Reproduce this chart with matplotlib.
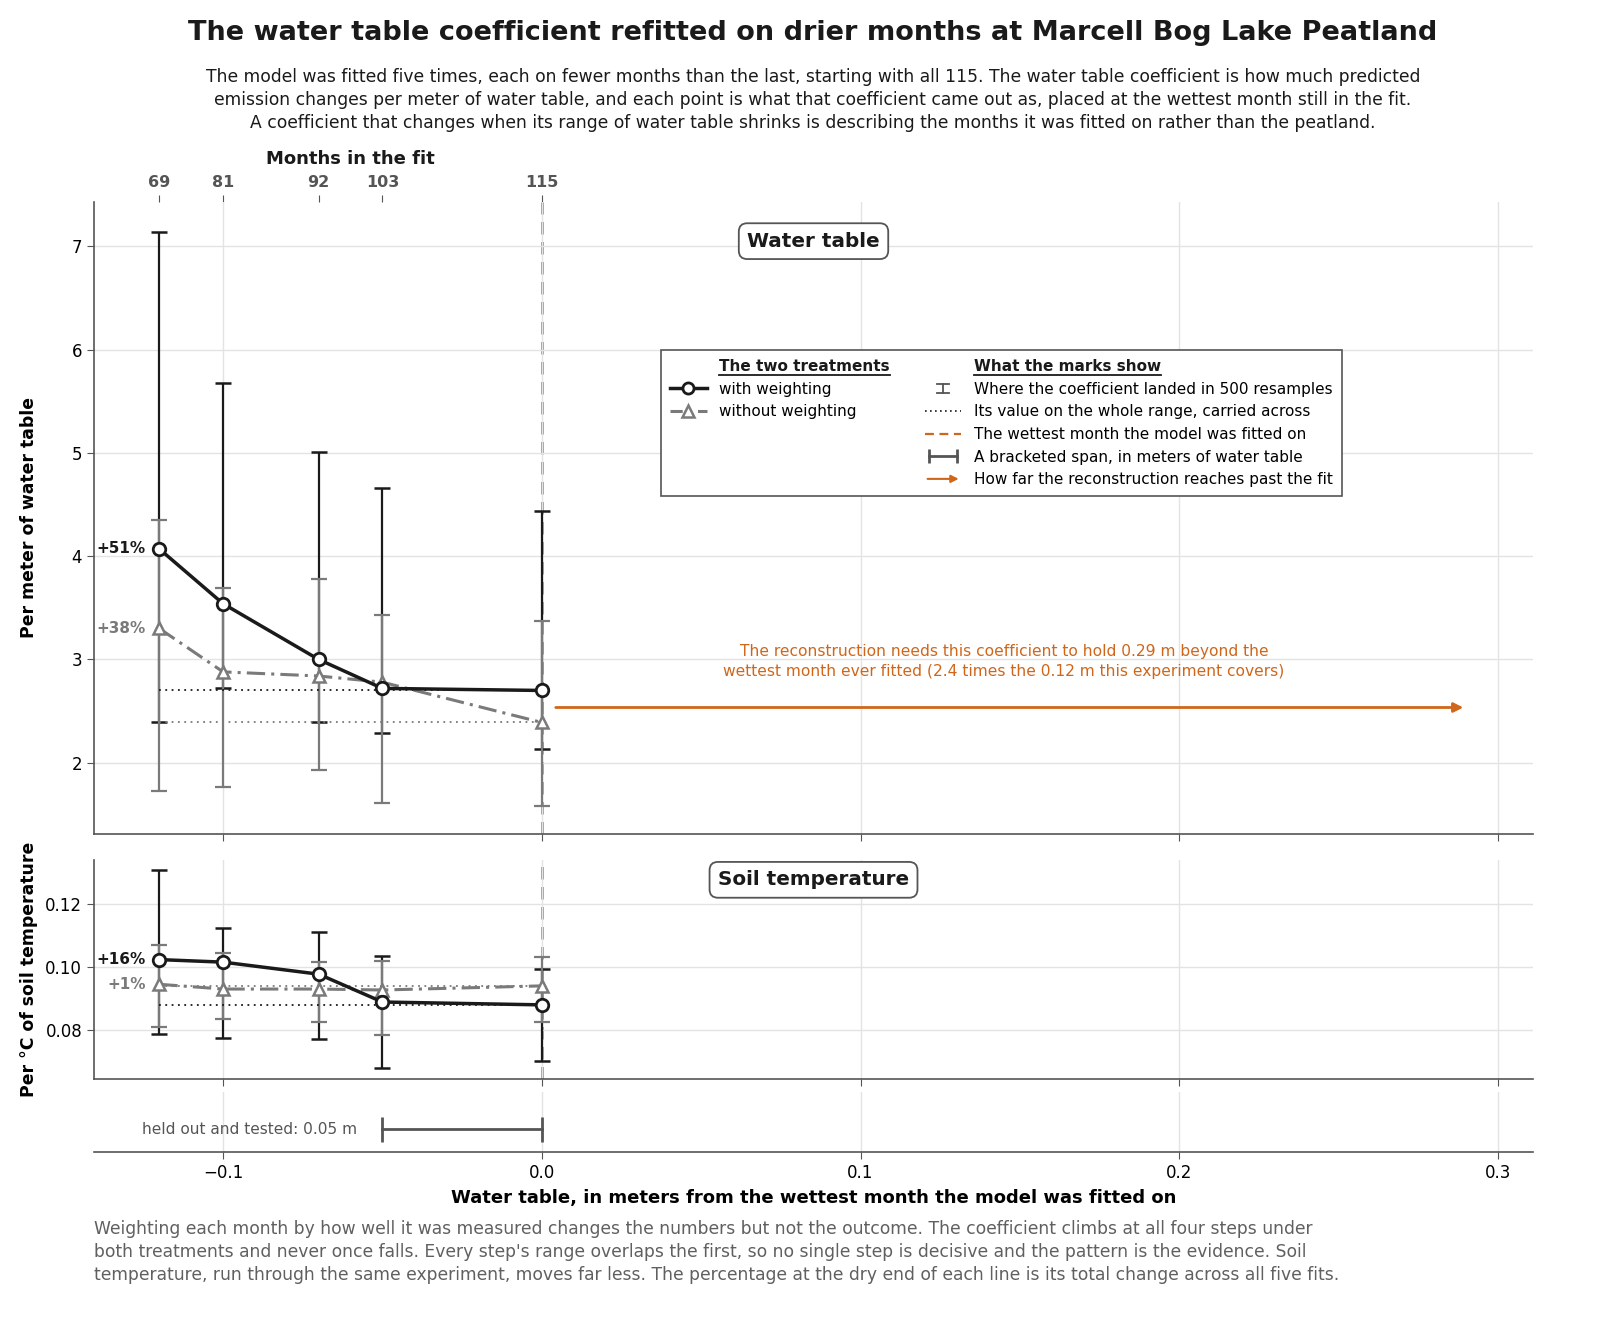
import numpy as np
import matplotlib
matplotlib.use("Agg")
import matplotlib.pyplot as plt
from matplotlib.lines import Line2D
from matplotlib.patches import FancyArrowPatch
from matplotlib.legend_handler import HandlerLine2D

# ---- data ----
wt_pos = [-0.12, -0.10, -0.07, -0.05, 0.0]   # wettest month still in the fit (m)
months = [69, 81, 92, 103, 115]

# water table coefficient
wt_w = [4.07, 3.54, 3.00, 2.72, 2.70]
wt_w_lo = [2.39, 2.72, 2.39, 2.29, 2.13]
wt_w_hi = [7.14, 5.68, 5.01, 4.66, 4.44]
wt_u = [3.30, 2.88, 2.84, 2.78, 2.39]
wt_u_lo = [1.73, 1.77, 1.93, 1.61, 1.58]
wt_u_hi = [4.35, 3.69, 3.78, 3.43, 3.37]

# soil temperature coefficient
st_w = [0.1023, 0.1015, 0.0977, 0.0889, 0.0880]
st_w_lo = [0.0788, 0.0776, 0.0772, 0.0679, 0.0703]
st_w_hi = [0.1305, 0.1123, 0.1109, 0.1035, 0.0994]
st_u = [0.0945, 0.0930, 0.0930, 0.0927, 0.0940]
st_u_lo = [0.0811, 0.0834, 0.0827, 0.0786, 0.0827]
st_u_hi = [0.1068, 0.1045, 0.1016, 0.1020, 0.1030]

reach = 0.29        # how far reconstruction reaches past the fit
held_out = 0.05     # bracketed span

BLACK = "#1a1a1a"
GRAY = "#7a7a7a"
ORANGE = "#d0661a"
SPINE = "#555555"
GRID = "#e3e3e3"

fig = plt.figure(figsize=(16, 13.34), dpi=100)
ax1 = fig.add_axes([0.05875, 0.3748, 0.8994, 0.4738])
ax2 = fig.add_axes([0.05875, 0.1912, 0.8994, 0.1642], sharex=ax1)
ax3 = fig.add_axes([0.05875, 0.1364, 0.8994, 0.045], sharex=ax1)

xlim = (-0.1405, 0.311)


def pct(a, b):
    return (a / b - 1) * 100


def draw_panel(ax, w, wlo, whi, u, ulo, uhi):
    ax.set_xlim(*xlim)
    ax.grid(True, color=GRID, lw=1, zorder=0)
    for s in ["top", "right"]:
        ax.spines[s].set_visible(False)
    for s in ["left", "bottom"]:
        ax.spines[s].set_color(SPINE)
        ax.spines[s].set_linewidth(1.2)
    ax.tick_params(axis="x", labelbottom=False, color=SPINE, length=5)
    ax.tick_params(axis="y", labelsize=12, color=SPINE, length=5)
    ax.axvline(0, color=ORANGE, ls=(0, (5, 3)), lw=1.8, zorder=1)

    w = np.array(w); u = np.array(u)
    ax.errorbar(wt_pos, w, yerr=[w - np.array(wlo), np.array(whi) - w], fmt="none",
                ecolor=BLACK, elinewidth=1.6, capsize=6, capthick=1.8, zorder=2)
    ax.errorbar(wt_pos, u, yerr=[u - np.array(ulo), np.array(uhi) - u], fmt="none",
                ecolor=GRAY, elinewidth=1.6, capsize=6, capthick=1.6, zorder=3)
    ax.plot([wt_pos[0], wt_pos[-1]], [w[-1], w[-1]], ls=(0, (1, 2.5)), color=BLACK, lw=1.3, zorder=3)
    ax.plot([wt_pos[0], wt_pos[-1]], [u[-1], u[-1]], ls=(0, (1, 2.5)), color=GRAY, lw=1.3, zorder=3)
    ax.plot(wt_pos, u, color=GRAY, ls=(0, (6, 2, 1, 2)), lw=2.2, marker="^", ms=9,
            mfc="white", mec=GRAY, mew=1.8, zorder=4)
    ax.plot(wt_pos, w, color=BLACK, lw=2.5, marker="o", ms=9,
            mfc="white", mec=BLACK, mew=2, zorder=5)

    ax.annotate(f"+{pct(w[0], w[-1]):.0f}%", (wt_pos[0], w[0]), xytext=(-10, 0),
                textcoords="offset points", ha="right", va="center",
                fontsize=11, fontweight="bold", color=BLACK)
    ax.annotate(f"+{pct(u[0], u[-1]):.0f}%", (wt_pos[0], u[0]), xytext=(-10, 0),
                textcoords="offset points", ha="right", va="center",
                fontsize=11, fontweight="bold", color=GRAY)
    ax.yaxis.set_label_coords(-0.039, 0.5)


draw_panel(ax1, wt_w, wt_w_lo, wt_w_hi, wt_u, wt_u_lo, wt_u_hi)
ax1.set_ylim(1.31, 7.43)
ax1.set_yticks([2, 3, 4, 5, 6, 7])
ax1.set_ylabel("Per meter of water table", fontsize=12.4, fontweight="bold")
ax1.text(0.5, 0.938, "Water table", transform=ax1.transAxes, ha="center", va="center",
         fontsize=14.4, fontweight="bold", color=BLACK,
         bbox=dict(boxstyle="round,pad=0.42", fc="white", ec=SPINE, lw=1.3), zorder=6)

draw_panel(ax2, st_w, st_w_lo, st_w_hi, st_u, st_u_lo, st_u_hi)
ax2.set_ylim(0.0646, 0.1338)
ax2.set_yticks([0.08, 0.10, 0.12])
ax2.set_yticklabels(["0.08", "0.10", "0.12"])
ax2.set_ylabel("Per °C of soil temperature", fontsize=12.4, fontweight="bold")
ax2.text(0.5, 0.909, "Soil temperature", transform=ax2.transAxes, ha="center", va="center",
         fontsize=14.4, fontweight="bold", color=BLACK,
         bbox=dict(boxstyle="round,pad=0.42", fc="white", ec=SPINE, lw=1.3), zorder=6)

# top axis: months in the fit
top = ax1.secondary_xaxis("top")
top.set_xticks(wt_pos)
top.set_xticklabels([str(m) for m in months], fontsize=11.5, fontweight="bold", color="#555555")
top.tick_params(color="#555555", length=5)
top.spines["top"].set_visible(False)
ax1.text((wt_pos[0] + wt_pos[-1]) / 2, 1.068, "Months in the fit", transform=ax1.get_xaxis_transform(),
         ha="center", va="center", fontsize=13, fontweight="bold", color=BLACK)

# reconstruction arrow
ax1.add_patch(FancyArrowPatch((0.0035, 2.535), (reach, 2.535), arrowstyle="-|>",
                              mutation_scale=14, color=ORANGE, lw=2, zorder=4))
ax1.text(reach / 2, 2.985,
         "The reconstruction needs this coefficient to hold 0.29 m beyond the\n"
         "wettest month ever fitted (2.4 times the 0.12 m this experiment covers)",
         ha="center", va="center", fontsize=11.15, color=ORANGE, linespacing=1.42)

# span panel
ax3.set_xlim(*xlim)
ax3.set_ylim(0, 1)
ax3.grid(True, axis="x", color=GRID, lw=1, zorder=0)
for s in ["top", "right", "left"]:
    ax3.spines[s].set_visible(False)
ax3.spines["bottom"].set_color(SPINE)
ax3.spines["bottom"].set_linewidth(1.2)
ax3.set_yticks([])
ax3.tick_params(axis="x", labelsize=12, color=SPINE, length=5, labelbottom=True)
ax3.set_xticks([-0.1, 0.0, 0.1, 0.2, 0.3])
ax3.set_xticklabels(["\u22120.1", "0.0", "0.1", "0.2", "0.3"])
ax3.plot([-held_out, 0], [0.38, 0.38], color=SPINE, lw=2, marker="|", ms=18, mew=2)
ax3.annotate(f"held out and tested: {held_out:.2f} m", (-held_out, 0.38), xytext=(-18, 0),
             textcoords="offset points", ha="right", va="center", fontsize=11.1, color="#555555")
ax3.set_xlabel("Water table, in meters from the wettest month the model was fitted on",
               fontsize=13, fontweight="bold", labelpad=5)


# ---- legend ----
class FuncHandler:
    def __init__(self, kind):
        self.kind = kind

    def legend_artist(self, legend, orig_handle, fontsize, handlebox):
        x0, y0 = handlebox.xdescent, handlebox.ydescent
        w, h = handlebox.width, handlebox.height
        tr = handlebox.get_transform()
        yc = y0 + h / 2
        if self.kind == "arrow":
            a = FancyArrowPatch((x0, yc), (x0 + w, yc), arrowstyle="-|>", mutation_scale=11,
                                color=ORANGE, lw=1.5, transform=tr)
            handlebox.add_artist(a)
            return a
        if self.kind == "ebar":
            xc = x0 + w / 2
            c = 4.5
            hh = h * 0.42
            arts = [Line2D([xc, xc], [yc - hh, yc + hh], color=SPINE, lw=1.3, transform=tr),
                    Line2D([xc - c, xc + c], [yc - hh, yc - hh], color=SPINE, lw=1.3, transform=tr),
                    Line2D([xc - c, xc + c], [yc + hh, yc + hh], color=SPINE, lw=1.3, transform=tr)]
            for a in arts:
                handlebox.add_artist(a)
            return arts[0]
        return None


blank = Line2D([], [], color="none")
blank2 = Line2D([], [], color="none")
blanks = [Line2D([], [], color="none") for _ in range(3)]
h_w = Line2D([], [], color=BLACK, lw=2.5, marker="o", ms=8, mfc="white", mec=BLACK, mew=2)
h_u = Line2D([], [], color=GRAY, lw=2.2, ls=(0, (4, 2, 1, 2)), marker="^", ms=8, mfc="white", mec=GRAY, mew=1.8)
h_eb = Line2D([], [])
h_dot = Line2D([], [], color=BLACK, ls=(0, (1, 2)), lw=1.2)
h_vl = Line2D([], [], color=ORANGE, ls=(0, (4, 2.5)), lw=1.6)
h_span = Line2D([], [], color=SPINE, lw=2, marker="|", ms=10, mew=2)
h_arr = Line2D([], [])

handles = [blank, h_w, h_u] + blanks + [blank2, h_eb, h_dot, h_vl, h_span, h_arr]
labels = ["The two treatments", "with weighting", "without weighting", "", "", "",
          "What the marks show",
          "Where the coefficient landed in 500 resamples",
          "Its value on the whole range, carried across",
          "The wettest month the model was fitted on",
          "A bracketed span, in meters of water table",
          "How far the reconstruction reaches past the fit"]
leg = ax1.legend(handles, labels, ncol=2, loc="upper left", bbox_to_anchor=(0.394, 0.766),
                 fontsize=11, frameon=True, fancybox=False, edgecolor=SPINE, framealpha=1,
                 handlelength=2.4, handletextpad=0.8, columnspacing=2.3, labelspacing=0.5,
                 borderpad=0.6, borderaxespad=0,
                 handler_map={h_eb: FuncHandler("ebar"), h_arr: FuncHandler("arrow"),
                              h_span: HandlerLine2D(numpoints=2)})
leg.get_frame().set_linewidth(1.2)
leg.set_zorder(7)
heads = [leg.get_texts()[0], leg.get_texts()[6]]
for t in heads:
    t.set_fontweight("bold")
    t.set_color(BLACK)

fig.canvas.draw()
inv = fig.transFigure.inverted()
for t in heads:
    bb = t.get_window_extent().transformed(inv)
    fig.add_artist(Line2D([bb.x0, bb.x1], [bb.y0 - 0.001, bb.y0 - 0.001],
                          transform=fig.transFigure, color=BLACK, lw=1.3, zorder=8))

# ---- titles and notes ----
fig.text(0.508, 0.975, "The water table coefficient refitted on drier months at Marcell Bog Lake Peatland",
         ha="center", va="center", fontsize=19.5, fontweight="bold", color=BLACK)
fig.text(0.508, 0.925,
         "The model was fitted five times, each on fewer months than the last, starting with all 115. "
         "The water table coefficient is how much predicted\n"
         "emission changes per meter of water table, and each point is what that coefficient came out as, "
         "placed at the wettest month still in the fit.\n"
         "A coefficient that changes when its range of water table shrinks is describing the months "
         "it was fitted on rather than the peatland.",
         ha="center", va="center", fontsize=12.3, color=BLACK, linespacing=1.38)
fig.text(0.05875, 0.0615,
         "Weighting each month by how well it was measured changes the numbers but not the outcome. "
         "The coefficient climbs at all four steps under\n"
         "both treatments and never once falls. Every step's range overlaps the first, so no single step "
         "is decisive and the pattern is the evidence. Soil\n"
         "temperature, run through the same experiment, moves far less. The percentage at the dry end "
         "of each line is its total change across all five fits.",
         ha="left", va="center", fontsize=12.3, color="#606060", linespacing=1.38)

fig.savefig("out.png", dpi=100)
